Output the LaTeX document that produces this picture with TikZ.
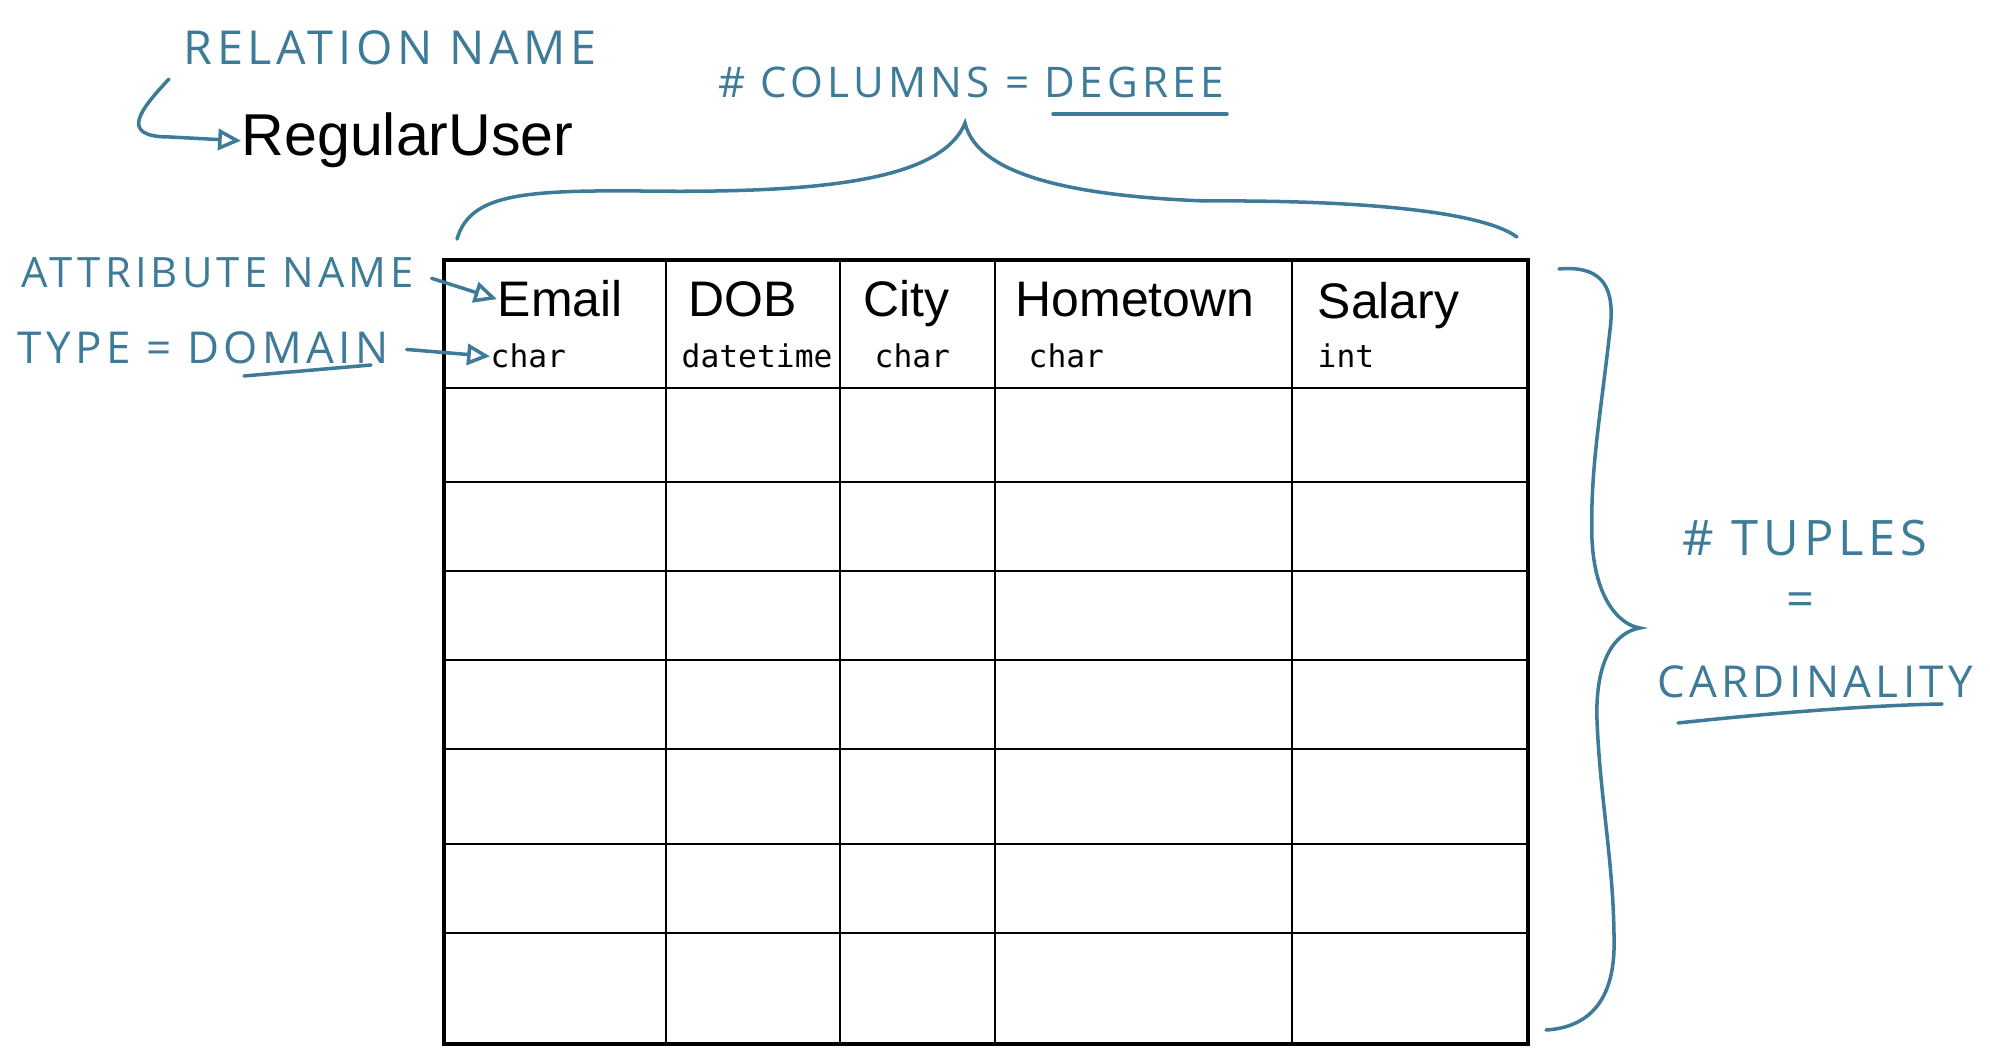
\documentclass[tikz,border=0pt]{standalone}
\usepackage{fontspec}
\setmainfont{Liberation Sans}
\setmonofont{DejaVu Sans Mono}
\newfontfamily\handfont[LetterSpace=10]{Open Sans}
\usetikzlibrary{arrows.meta}
\definecolor{pen-blue}{HTML}{3E7B99}

\begin{document}
\begin{tikzpicture}[x=0.01cm, y=-0.01cm,
    hand/.style={pen-blue, font=\handfont\fontsize{#1}{15}\selectfont, inner sep=0pt},
    hand/.default=12.5,
    penline/.style={pen-blue, line width=1pt, line cap=round},
    penarrow/.style={penline, -{Triangle[open, length=6.5pt, width=6pt]}},
    colhead/.style={anchor=base west, font=\fontsize{14.2}{17}\selectfont, inner sep=0pt},
    coltype/.style={anchor=base west, font=\ttfamily\fontsize{8.9}{10}\selectfont, inner sep=0pt}]
  \useasboundingbox (0,0) rectangle (1990,1061);

  % the relation table
  \foreach \x in {666,840,995,1292}
    \draw[line width=0.6pt] (\x,260) -- (\x,1044);
  \foreach \y in {388,482,571,660,749,844,933}
    \draw[line width=0.6pt] (444,\y) -- (1528,\y);
  \draw[line width=1pt] (444,260) rectangle (1528,1044);

  \node[colhead] (email) at (497,317) {Email};
  \node[colhead] (dob) at (688,317) {DOB};
  \node[colhead] (city) at (863,317) {City};
  \node[colhead] (hometown) at (1015,317) {Hometown};
  \node[colhead] (salary) at (1317,319) {Salary};
  \node[coltype] (emailtype) at (490,368) {char};
  \node[coltype] (dobtype) at (681,368) {datetime};
  \node[coltype] (citytype) at (874,368) {char};
  \node[coltype] (hometype) at (1028,368) {char};
  \node[coltype] (salarytype) at (1317,368) {int};

  \node[anchor=base west, inner sep=0pt, font=\fontsize{16.8}{20}\selectfont]
    (reguser) at (241,156) {RegularUser};

  % handwritten notes
  \node[hand=13.3] (relname) at (390,48) {RELATION NAME};
  \node[hand=11.9] (attrname) at (218,273) {ATTRIBUTE NAME};
  \node[hand] (typedom) at (203,348) {TYPE = DOMAIN};
  \node[hand=12] (colcount) at (971,82) {\# COLUMNS = DEGREE};
  \node[hand=13.9] (tuples) at (1805,538) {\# TUPLES};
  \node[hand=13.9] (eqsign) at (1800,605) {=};
  \node[hand] (cardin) at (1815,682) {CARDINALITY};

  \coordinate (relstart) at (169,79);
  \draw[penarrow] (relstart) .. controls (140,110) and (118,137) .. (170,137)
    -- (reguser.west);
  \draw[penarrow, shorten <=5pt] (attrname.east) -- (email.west);
  \draw[penarrow, shorten <=5pt] (typedom.east) -- (emailtype.west);

  \draw[penline] (1053,114) -- (1227,114);
  \draw[penline] (244,376) -- (371,365);
  \draw[penline] (1678,723) .. controls (1780,712) and (1880,705) .. (1942,704);

  % braces
  \draw[penline] (457,239) .. controls (470,195) and (520,190) .. (640,191)
    .. controls (800,193) and (940,185) .. (965,123)
    .. controls (975,165) and (1040,195) .. (1206,201)
    .. controls (1350,200) and (1480,210) .. (1517,237);
  \draw[penline] (1559,269) .. controls (1605,265) and (1615,290) .. (1610,330)
    .. controls (1600,420) and (1590,470) .. (1592,540)
    .. controls (1595,600) and (1620,625) .. (1640,628)
    .. controls (1615,632) and (1595,660) .. (1597,720)
    .. controls (1600,800) and (1615,870) .. (1614,950)
    .. controls (1612,1010) and (1580,1028) .. (1546,1030);
\end{tikzpicture}
\end{document}
